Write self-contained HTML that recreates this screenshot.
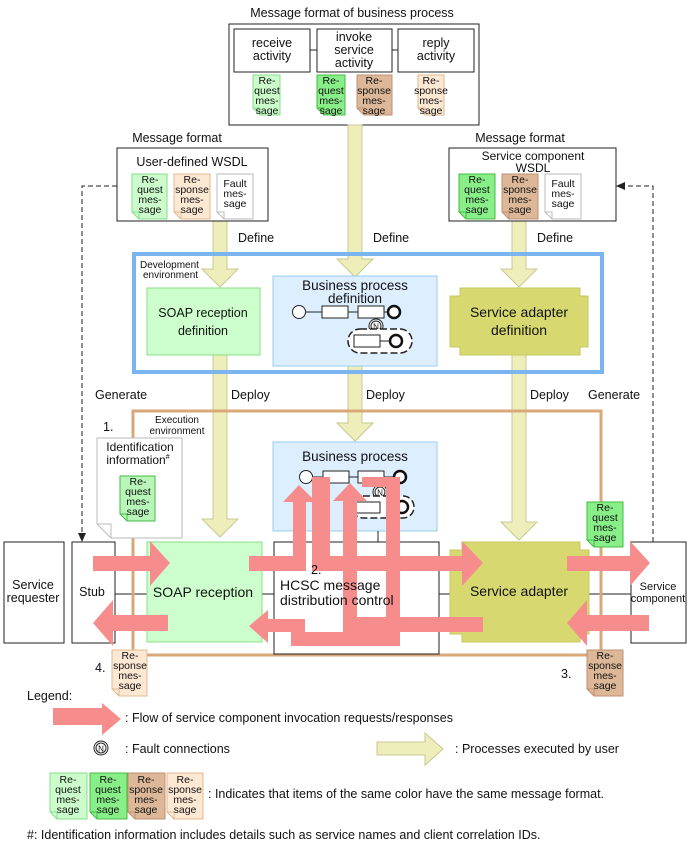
<!DOCTYPE html>
<html><head><meta charset="utf-8"><style>
html,body{margin:0;padding:0;background:#fff}
svg{display:block}
text{font-family:"Liberation Sans",sans-serif;fill:#111}
.d{font-size:10.5px;text-anchor:middle}
.t{font-size:12.5px}
.c{text-anchor:middle}
</style></head><body>
<svg width="687" height="847" viewBox="0 0 687 847" xmlns="http://www.w3.org/2000/svg">
<defs>
<g id="n"><circle r="7" fill="#fff" stroke="#222" stroke-width="1"/><circle r="5" fill="none" stroke="#222" stroke-width="1"/><text y="3.5" font-size="8" text-anchor="middle">N</text></g>
</defs>

<text x="352" y="17" class="t c" font-size="13.5">Message format of business process</text>
<rect x="229" y="24" width="250" height="101" fill="#fff" stroke="#222"/>
<line x1="310" y1="50" x2="317" y2="50" stroke="#222"/><line x1="392" y1="50" x2="398" y2="50" stroke="#222"/>
<rect x="234" y="29" width="76" height="43" fill="#fff" stroke="#222"/>
<rect x="317" y="29" width="75" height="43" fill="#fff" stroke="#222"/>
<rect x="398" y="29" width="76" height="43" fill="#fff" stroke="#222"/>
<text x="272" y="47" class="t c">receive</text><text x="272" y="60" class="t c">activity</text>
<text x="354" y="41" class="t c">invoke</text><text x="354" y="54" class="t c">service</text><text x="354" y="67" class="t c">activity</text>
<text x="436" y="47" class="t c">reply</text><text x="436" y="60" class="t c">activity</text>

<path d="M253 75H280V115H260L253 108Z M253 108H260V115" fill="#ccfccc" stroke="#88dd88"/>
<text x="267" y="84" class="d">Re-</text><text x="267" y="94" class="d">quest</text><text x="267" y="104" class="d">mes-</text><text x="267" y="114" class="d">sage</text>
<path d="M317 75H345V115H324L317 108Z M317 108H324V115" fill="#88ee88" stroke="#44bb44"/>
<text x="331" y="84" class="d">Re-</text><text x="331" y="94" class="d">quest</text><text x="331" y="104" class="d">mes-</text><text x="331" y="114" class="d">sage</text>
<path d="M357 75H392V115H364L357 108Z M357 108H364V115" fill="#ddb898" stroke="#c09070"/>
<text x="374" y="84" class="d">Re-</text><text x="374" y="94" class="d">sponse</text><text x="374" y="104" class="d">mes-</text><text x="374" y="114" class="d">sage</text>
<path d="M418 75H444V115H425L418 108Z M418 108H425V115" fill="#fde8d4" stroke="#e0b890"/>
<text x="431" y="84" class="d">Re-</text><text x="431" y="94" class="d">sponse</text><text x="431" y="104" class="d">mes-</text><text x="431" y="114" class="d">sage</text>

<g fill="#eeeebb" stroke="#c8c890">
<polygon points="348,125 362,125 362,259 373,259 355,277 337,259 348,259"/>
<polygon points="213,220 227,220 227,269 238,269 220,287 202,269 213,269"/>
<polygon points="512,220 526,220 526,269 537,269 519,287 501,269 512,269"/>
<polygon points="213,355 227,355 227,519 238,519 220,537 202,519 213,519"/>
<polygon points="348,366 362,366 362,423 373,423 355,441 337,423 348,423"/>
<polygon points="512,355 526,355 526,522 537,522 519,540 501,522 512,522"/>
</g>

<text x="177" y="142" class="t c">Message format</text>
<rect x="117" y="148" width="151" height="73" fill="#fff" stroke="#222"/>
<text x="192" y="166" class="t c" font-size="13.5">User-defined WSDL</text>
<path d="M132 174H167V219H139L132 212Z M132 212H139V219" fill="#ccfccc" stroke="#88dd88"/>
<text x="150" y="183" class="d">Re-</text><text x="150" y="193" class="d">quest</text><text x="150" y="203" class="d">mes-</text><text x="150" y="213" class="d">sage</text>
<path d="M174 174H210V219H181L174 212Z M174 212H181V219" fill="#fde8d4" stroke="#e0b890"/>
<text x="192" y="183" class="d">Re-</text><text x="192" y="193" class="d">sponse</text><text x="192" y="203" class="d">mes-</text><text x="192" y="213" class="d">sage</text>
<path d="M217 174H253V219H224L217 212Z M217 212H224V219" fill="#fff" stroke="#bbb"/>
<text x="235" y="187" class="d">Fault</text><text x="235" y="197" class="d">mes-</text><text x="235" y="207" class="d">sage</text>

<text x="520" y="142" class="t c">Message format</text>
<rect x="449" y="148" width="167" height="73" fill="#fff" stroke="#222"/>
<text x="533" y="160" class="c" font-size="12">Service component</text>
<text x="533" y="172" class="c" font-size="12">WSDL</text>
<path d="M459 174H495V219H466L459 212Z M459 212H466V219" fill="#88ee88" stroke="#44bb44"/>
<text x="477" y="183" class="d">Re-</text><text x="477" y="193" class="d">quest</text><text x="477" y="203" class="d">mes-</text><text x="477" y="213" class="d">sage</text>
<path d="M502 174H538V219H509L502 212Z M502 212H509V219" fill="#ddb898" stroke="#c09070"/>
<text x="520" y="183" class="d">Re-</text><text x="520" y="193" class="d">sponse</text><text x="520" y="203" class="d">mes-</text><text x="520" y="213" class="d">sage</text>
<path d="M545 174H581V219H552L545 212Z M545 212H552V219" fill="#fff" stroke="#bbb"/>
<text x="563" y="187" class="d">Fault</text><text x="563" y="197" class="d">mes-</text><text x="563" y="207" class="d">sage</text>

<text x="238" y="242" class="t">Define</text>
<text x="373" y="242" class="t">Define</text>
<text x="537" y="242" class="t">Define</text>

<path d="M117 186H82V535" fill="none" stroke="#222" stroke-dasharray="5,3"/>
<polygon points="78,533 86,533 82,542" fill="#222"/>
<path d="M653 542V186H624" fill="none" stroke="#222" stroke-dasharray="5,3"/>
<polygon points="625,182 625,190 616,186" fill="#222"/>

<rect x="134" y="254" width="468" height="118" fill="none" stroke="#7ab5f0" stroke-width="4"/>
<text x="140" y="268" font-size="10">Development</text>
<text x="143" y="278" font-size="10">environment</text>
<rect x="147" y="288" width="113" height="67" fill="#ccffcc" stroke="#88dd88"/>
<text x="203" y="317" class="t c" font-size="14">SOAP reception</text>
<text x="203" y="335" class="t c" font-size="14">definition</text>
<rect x="273" y="276" width="164" height="90" fill="#ddeeff" stroke="#99ccee"/>
<text x="355" y="290" class="c" font-size="13.5">Business process</text>
<text x="355" y="303" class="c" font-size="13.5">definition</text>
<line x1="305" y1="312" x2="394" y2="312" stroke="#222"/>
<circle cx="299" cy="312" r="6.5" fill="#fff" stroke="#222"/>
<rect x="322" y="306" width="26" height="12" fill="#fff" stroke="#222"/>
<rect x="358" y="306" width="26" height="12" fill="#fff" stroke="#222"/>
<circle cx="394" cy="312" r="6" fill="#fff" stroke="#111" stroke-width="2.5"/>
<use href="#n" x="376" y="326"/>
<rect x="348" y="329" width="64" height="24" rx="12" fill="#fff" stroke="#222" stroke-width="1.5" stroke-dasharray="7,3"/>
<line x1="380" y1="341" x2="396" y2="341" stroke="#222"/>
<rect x="354" y="335" width="26" height="12" fill="#fff" stroke="#222"/>
<circle cx="396" cy="341" r="6" fill="#fff" stroke="#111" stroke-width="2.5"/>
<polygon points="460,288 580,288 580,296 588,296 588,347 580,347 580,355 460,355 460,347 450,347 450,296 460,296" fill="#d8d870" stroke="#c8c860"/>
<text x="519" y="317" class="c" font-size="14">Service adapter</text>
<text x="519" y="335" class="c" font-size="14">definition</text>

<text x="95" y="399" class="t">Generate</text>
<text x="588" y="399" class="t">Generate</text>
<text x="231" y="399" class="t">Deploy</text>
<text x="366" y="399" class="t">Deploy</text>
<text x="530" y="399" class="t">Deploy</text>

<line x1="82" y1="594" x2="631" y2="594" stroke="#222"/>
<rect x="133" y="411" width="468" height="244" fill="none" stroke="#d8a878" stroke-width="3"/>
<rect x="140" y="413" width="70" height="26" fill="#fff"/>
<text x="177" y="423" class="c" font-size="10">Execution</text>
<text x="177" y="434" class="c" font-size="10">environment</text>
<text x="103" y="431" class="t">1.</text>
<path d="M97 438H182V538H111L97 524Z M97 524H111V538" fill="#fff" stroke="#bbb"/>
<text x="140" y="451" class="c" font-size="12">Identification</text>
<text x="138" y="464" class="c" font-size="12">information<tspan font-size="7" dy="-5">#</tspan></text>
<path d="M120 476H155V521H127L120 514Z M120 514H127V521" fill="#88ee88" stroke="#44bb44" fill-opacity=".6"/>
<text x="138" y="485" class="d">Re-</text><text x="138" y="495" class="d">quest</text><text x="138" y="505" class="d">mes-</text><text x="138" y="515" class="d">sage</text>

<rect x="273" y="442" width="164" height="89" fill="#ddeeff" stroke="#99ccee"/>
<text x="355" y="461" class="c" font-size="13.5">Business process</text>
<line x1="306" y1="477" x2="400" y2="477" stroke="#222"/>
<circle cx="306" cy="477" r="6.5" fill="#fff" stroke="#222"/>
<rect x="323" y="471" width="26" height="12" fill="#fff" stroke="#222"/>
<rect x="358" y="471" width="26" height="12" fill="#fff" stroke="#222"/>
<circle cx="400" cy="477" r="6" fill="#fff" stroke="#111" stroke-width="2.5"/>
<use href="#n" x="380" y="492"/>
<rect x="352" y="496" width="62" height="22" rx="11" fill="#fff" stroke="#222" stroke-width="1.5" stroke-dasharray="7,3"/>
<rect x="356" y="502" width="24" height="11" fill="#fff" stroke="#222"/>
<circle cx="402" cy="507" r="6" fill="#fff" stroke="#111" stroke-width="2.5"/>
<line x1="378" y1="531" x2="378" y2="542" stroke="#222"/>

<rect x="4" y="542" width="60" height="101" fill="#fff" stroke="#222"/>
<text x="33" y="589" class="t c">Service</text><text x="33" y="602" class="t c">requester</text>
<rect x="72" y="542" width="43" height="101" fill="#fff" stroke="#222"/>
<text x="92" y="596" class="t c">Stub</text>
<rect x="147" y="542" width="115" height="100" fill="#ccffcc" stroke="#88dd88"/>
<text x="203" y="597" class="c" font-size="14">SOAP reception</text>
<rect x="274" y="542" width="165" height="112" fill="#fff" stroke="#222"/>
<polygon points="462,542 580,542 580,550 589,550 589,634 580,634 580,642 462,642 462,634 450,634 450,550 462,550" fill="#d8d870" stroke="#c8c860"/>
<text x="519" y="596" class="c" font-size="14">Service adapter</text>
<rect x="631" y="542" width="55" height="101" fill="#fff" stroke="#222"/>
<text x="658" y="590" class="c" font-size="11">Service</text>
<text x="658" y="602" class="c" font-size="11">component</text>

<g fill="#f78c8c">
<polygon points="93,556 150,556 150,541 170,563 150,586 150,571 93,571"/>
<polygon points="168,615 113,615 113,600 93,623 113,646 113,631 168,631"/>
<polygon points="567,556 630,556 630,541 650,563 630,586 630,571 567,571"/>
<polygon points="649,615 587,615 587,600 567,623 587,646 587,631 649,631"/>
<polygon points="249,556 293,556 293,502 283,502 299,485 316,502 306,502 306,571 249,571"/>
<polygon points="312,477 330,477 330,556 462,556 462,541 483,563 462,586 462,571 312,571"/>
<polygon points="483,617 483,632 343,632 343,501 333,501 350,483 367,501 357,501 357,617"/>
<polygon points="249,626 268,610 268,619 305,619 305,632 386,632 386,487 362,487 362,477 400,477 400,646 291,646 291,632 268,632 268,643"/>
</g>
<text x="311" y="574" class="t">2.</text>
<text x="280" y="590" font-size="14">HCSC message</text>
<text x="280" y="605" font-size="14">distribution control</text>

<path d="M587 502H623V547H594L587 540Z M587 540H594V547" fill="#88ee88" stroke="#44bb44"/>
<text x="605" y="511" class="d">Re-</text><text x="605" y="521" class="d">quest</text><text x="605" y="531" class="d">mes-</text><text x="605" y="541" class="d">sage</text>
<path d="M112 650H147V696H119L112 689Z M112 689H119V696" fill="#fde8d4" stroke="#e0b890"/>
<text x="130" y="659" class="d">Re-</text><text x="130" y="669" class="d">sponse</text><text x="130" y="679" class="d">mes-</text><text x="130" y="689" class="d">sage</text>
<path d="M587 650H623V696H594L587 689Z M587 689H594V696" fill="#ddb898" stroke="#c09070"/>
<text x="605" y="659" class="d">Re-</text><text x="605" y="669" class="d">sponse</text><text x="605" y="679" class="d">mes-</text><text x="605" y="689" class="d">sage</text>
<text x="95" y="672" class="t">4.</text>
<text x="561" y="678" class="t">3.</text>

<text x="27" y="700" class="t">Legend:</text>
<polygon points="53,708 102,708 102,703 121,719 102,735 102,725 53,725" fill="#f78c8c"/>
<text x="125" y="722" class="t">: Flow of service component invocation requests/responses</text>
<use href="#n" x="101" y="748"/>
<text x="125" y="753" class="t">: Fault connections</text>
<polygon points="377,742 425,742 425,733 443,749 425,765 425,755 377,755" fill="#eeeebb" stroke="#c8c890"/>
<text x="455" y="753" class="t">: Processes executed by user</text>
<path d="M50 773H87V819H57L50 812Z M50 812H57V819" fill="#ccfccc" stroke="#88dd88"/>
<text x="68" y="783" class="d">Re-</text><text x="68" y="793" class="d">quest</text><text x="68" y="803" class="d">mes-</text><text x="68" y="813" class="d">sage</text>
<path d="M90 773H127V819H97L90 812Z M90 812H97V819" fill="#88ee88" stroke="#44bb44"/>
<text x="108" y="783" class="d">Re-</text><text x="108" y="793" class="d">quest</text><text x="108" y="803" class="d">mes-</text><text x="108" y="813" class="d">sage</text>
<path d="M128 773H165V819H135L128 812Z M128 812H135V819" fill="#ddb898" stroke="#c09070"/>
<text x="146" y="783" class="d">Re-</text><text x="146" y="793" class="d">sponse</text><text x="146" y="803" class="d">mes-</text><text x="146" y="813" class="d">sage</text>
<path d="M167 773H203V819H174L167 812Z M167 812H174V819" fill="#fde8d4" stroke="#e0b890"/>
<text x="185" y="783" class="d">Re-</text><text x="185" y="793" class="d">sponse</text><text x="185" y="803" class="d">mes-</text><text x="185" y="813" class="d">sage</text>
<text x="208" y="798" class="t">: Indicates that items of the same color have the same message format.</text>
<text x="27" y="839" class="t">#: Identification information includes details such as service names and client correlation IDs.</text>
</svg>
</body></html>
